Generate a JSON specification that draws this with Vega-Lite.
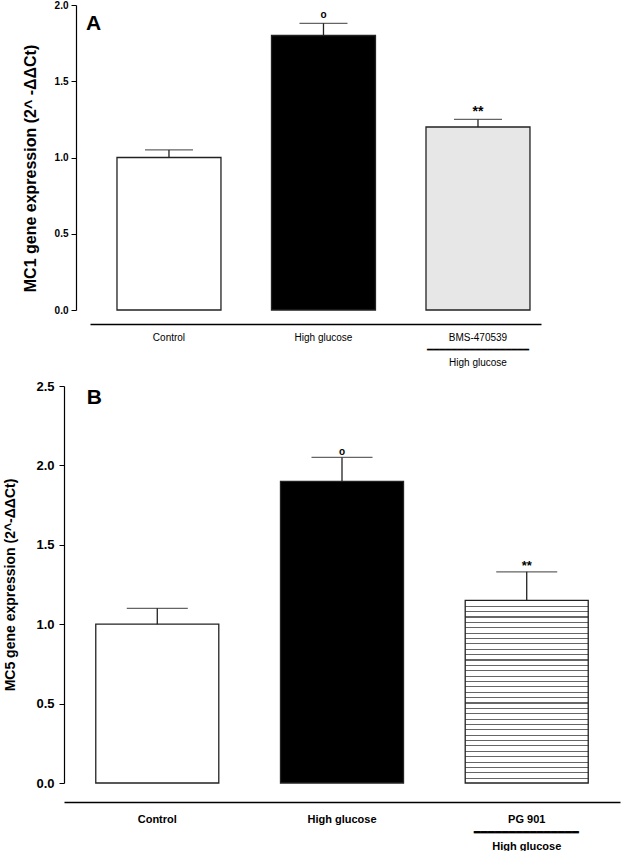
{
  "$schema": "https://vega.github.io/schema/vega-lite/v6.json",
  "padding": {"left": 3, "top": 0, "right": 0, "bottom": 0},
  "spacing": 13,
  "config": {
    "view": {"stroke": null},
    "font": "Liberation Sans",
    "axis": {"grid": false, "domainColor": "#000", "tickColor": "#000", "labelColor": "#000", "titleColor": "#000", "labelFont": "Liberation Sans", "titleFont": "Liberation Sans"}
  },
  "vconcat": [
    {
      "width": 447,
      "height": 305,
      "data": {"values": [
        {"group": "Control", "value": 1.0, "upper": 1.05, "mark": ""},
        {"group": "High glucose", "value": 1.8, "upper": 1.88, "mark": "o"},
        {"group": "BMS-470539", "value": 1.2, "upper": 1.25, "mark": "**"}
      ]},
      "encoding": {
        "x": {"field": "group", "type": "nominal", "sort": ["Control", "High glucose", "BMS-470539"],
          "scale": {"type": "band", "domain": ["Control", "High glucose", "BMS-470539"], "range": [-4, 447], "paddingInner": 0.327, "paddingOuter": 0.123, "align": 0.71},
          "axis": {"title": null, "offset": 14, "ticks": false, "domainWidth": 1.5, "labelAngle": 0, "labelFontSize": 10, "labelFontWeight": "normal", "labelPadding": 8, "labelLineHeight": 12.5,
            "labelExpr": "datum.label == 'BMS-470539' ? ['BMS-470539', '━━━━━━━━━━━━━━━━━', 'High glucose'] : datum.label"}}
      },
      "layer": [
        {
          "transform": [{"filter": "datum.group != 'BMS-470539'"}],
          "mark": {"type": "bar", "stroke": "#222", "strokeWidth": 1.3, "fill": "#000"},
          "encoding": {
            "y": {"field": "value", "type": "quantitative", "scale": {"domain": [0, 2], "nice": false},
              "axis": {"title": "MC1 gene expression (2^ -ΔΔCt)", "titleFontSize": 16, "titleFontWeight": "bold", "titlePadding": 16, "titleY": 163, "values": [0, 0.5, 1, 1.5, 2], "format": ".1f", "offset": 18, "tickSize": 5, "labelFontSize": 10, "labelFontWeight": "bold", "labelPadding": 3, "domainWidth": 1.2}},
            "fill": {"condition": {"test": "datum.group == 'Control'", "value": "#ffffff"}, "value": "#000000"}
          }
        },
        {
          "transform": [{"filter": "datum.group == 'BMS-470539'"}],
          "mark": {"type": "bar", "stroke": "#222", "strokeWidth": 1.3, "fill": "#e7e7e7"},
          "encoding": {"y": {"field": "value", "type": "quantitative"}}
        },
        {
          "mark": {"type": "rule", "color": "#222", "strokeWidth": 1.3},
          "encoding": {"y": {"field": "value", "type": "quantitative"}, "y2": {"field": "upper"}}
        },
        {
          "mark": {"type": "tick", "color": "#222", "thickness": 1.3, "size": 48},
          "encoding": {"y": {"field": "upper", "type": "quantitative"}}
        },
        {
          "transform": [{"filter": "datum.mark == 'o'"}],
          "mark": {"type": "text", "fontSize": 10, "fontWeight": "bold", "baseline": "alphabetic", "dy": -5, "color": "#000"},
          "encoding": {"y": {"field": "upper", "type": "quantitative"}, "text": {"field": "mark"}}
        },
        {
          "transform": [{"filter": "datum.mark == '**'"}],
          "mark": {"type": "text", "fontSize": 14, "fontWeight": "bold", "baseline": "alphabetic", "dy": -3, "color": "#000"},
          "encoding": {"y": {"field": "upper", "type": "quantitative"}, "text": {"field": "mark"}}
        },
        {
          "data": {"values": [{"panel": "A"}]},
          "mark": {"type": "text", "fontSize": 21, "fontWeight": "bold", "baseline": "alphabetic", "align": "left", "dx": -83, "color": "#000"},
          "encoding": {"x": {"datum": "Control"}, "y": {"datum": 1.836}, "text": {"field": "panel"}}
        }
      ]
    },
    {
      "width": 526,
      "height": 397,
      "data": {"values": [
        {"group": "Control", "value": 1.0, "upper": 1.1, "mark": ""},
        {"group": "High glucose", "value": 1.9, "upper": 2.05, "mark": "o"},
        {"group": "PG 901", "value": 1.15, "upper": 1.33, "mark": "**"}
      ]},
      "encoding": {
        "x": {"field": "group", "type": "nominal", "sort": ["Control", "High glucose", "PG 901"],
          "scale": {"type": "band", "domain": ["Control", "High glucose", "PG 901"], "range": [-30, 526], "paddingInner": 0.334, "paddingOuter": 0.172},
          "axis": {"title": null, "offset": 19, "ticks": false, "domainWidth": 1.5, "labelAngle": 0, "labelFontSize": 11, "labelFontWeight": "bold", "labelPadding": 11, "labelLineHeight": 13.5,
            "labelExpr": "datum.label == 'PG 901' ? ['PG 901', '━━━━━━━━━━━━━━━', 'High glucose'] : datum.label"}}
      },
      "layer": [
        {
          "transform": [{"filter": "datum.group != 'PG 901'"}],
          "mark": {"type": "bar", "stroke": "#222", "strokeWidth": 1.3, "fill": "#000"},
          "encoding": {
            "y": {"field": "value", "type": "quantitative", "scale": {"domain": [0, 2.5], "nice": false},
              "axis": {"title": "MC5 gene expression (2^-ΔΔCt)", "titleFontSize": 14, "titleFontWeight": "bold", "titlePadding": 18, "values": [0, 0.5, 1, 1.5, 2, 2.5], "format": ".1f", "offset": 30, "tickSize": 5, "labelFontSize": 13, "labelFontWeight": "bold", "labelPadding": 5, "domainWidth": 1.2}},
            "fill": {"condition": {"test": "datum.group == 'Control'", "value": "#ffffff"}, "value": "#000000"}
          }
        },
        {
          "transform": [{"filter": "datum.group == 'PG 901'"}],
          "mark": {"type": "bar", "stroke": "#222", "strokeWidth": 1.3,
            "fill": {"gradient": "linear", "x1": 0, "y1": 0, "x2": 0, "y2": 1, "stops": [
              {"offset": 0, "color": "#fff"},
              {"offset": 0.0294, "color": "#fff"}, {"offset": 0.0294, "color": "#666"}, {"offset": 0.0354, "color": "#666"}, {"offset": 0.0354, "color": "#fff"},
              {"offset": 0.0588, "color": "#fff"}, {"offset": 0.0588, "color": "#666"}, {"offset": 0.0648, "color": "#666"}, {"offset": 0.0648, "color": "#fff"},
              {"offset": 0.0882, "color": "#fff"}, {"offset": 0.0882, "color": "#666"}, {"offset": 0.0942, "color": "#666"}, {"offset": 0.0942, "color": "#fff"},
              {"offset": 0.1176, "color": "#fff"}, {"offset": 0.1176, "color": "#666"}, {"offset": 0.1236, "color": "#666"}, {"offset": 0.1236, "color": "#fff"},
              {"offset": 0.1471, "color": "#fff"}, {"offset": 0.1471, "color": "#666"}, {"offset": 0.1531, "color": "#666"}, {"offset": 0.1531, "color": "#fff"},
              {"offset": 0.1765, "color": "#fff"}, {"offset": 0.1765, "color": "#666"}, {"offset": 0.1825, "color": "#666"}, {"offset": 0.1825, "color": "#fff"},
              {"offset": 0.2059, "color": "#fff"}, {"offset": 0.2059, "color": "#666"}, {"offset": 0.2119, "color": "#666"}, {"offset": 0.2119, "color": "#fff"},
              {"offset": 0.2353, "color": "#fff"}, {"offset": 0.2353, "color": "#666"}, {"offset": 0.2413, "color": "#666"}, {"offset": 0.2413, "color": "#fff"},
              {"offset": 0.2647, "color": "#fff"}, {"offset": 0.2647, "color": "#666"}, {"offset": 0.2707, "color": "#666"}, {"offset": 0.2707, "color": "#fff"},
              {"offset": 0.2941, "color": "#fff"}, {"offset": 0.2941, "color": "#666"}, {"offset": 0.3001, "color": "#666"}, {"offset": 0.3001, "color": "#fff"},
              {"offset": 0.3235, "color": "#fff"}, {"offset": 0.3235, "color": "#666"}, {"offset": 0.3295, "color": "#666"}, {"offset": 0.3295, "color": "#fff"},
              {"offset": 0.3529, "color": "#fff"}, {"offset": 0.3529, "color": "#666"}, {"offset": 0.3589, "color": "#666"}, {"offset": 0.3589, "color": "#fff"},
              {"offset": 0.3824, "color": "#fff"}, {"offset": 0.3824, "color": "#666"}, {"offset": 0.3884, "color": "#666"}, {"offset": 0.3884, "color": "#fff"},
              {"offset": 0.4118, "color": "#fff"}, {"offset": 0.4118, "color": "#666"}, {"offset": 0.4178, "color": "#666"}, {"offset": 0.4178, "color": "#fff"},
              {"offset": 0.4412, "color": "#fff"}, {"offset": 0.4412, "color": "#666"}, {"offset": 0.4472, "color": "#666"}, {"offset": 0.4472, "color": "#fff"},
              {"offset": 0.4706, "color": "#fff"}, {"offset": 0.4706, "color": "#666"}, {"offset": 0.4766, "color": "#666"}, {"offset": 0.4766, "color": "#fff"},
              {"offset": 0.5, "color": "#fff"}, {"offset": 0.5, "color": "#666"}, {"offset": 0.506, "color": "#666"}, {"offset": 0.506, "color": "#fff"},
              {"offset": 0.5294, "color": "#fff"}, {"offset": 0.5294, "color": "#666"}, {"offset": 0.5354, "color": "#666"}, {"offset": 0.5354, "color": "#fff"},
              {"offset": 0.5588, "color": "#fff"}, {"offset": 0.5588, "color": "#666"}, {"offset": 0.5648, "color": "#666"}, {"offset": 0.5648, "color": "#fff"},
              {"offset": 0.5882, "color": "#fff"}, {"offset": 0.5882, "color": "#666"}, {"offset": 0.5942, "color": "#666"}, {"offset": 0.5942, "color": "#fff"},
              {"offset": 0.6176, "color": "#fff"}, {"offset": 0.6176, "color": "#666"}, {"offset": 0.6236, "color": "#666"}, {"offset": 0.6236, "color": "#fff"},
              {"offset": 0.6471, "color": "#fff"}, {"offset": 0.6471, "color": "#666"}, {"offset": 0.6531, "color": "#666"}, {"offset": 0.6531, "color": "#fff"},
              {"offset": 0.6765, "color": "#fff"}, {"offset": 0.6765, "color": "#666"}, {"offset": 0.6825, "color": "#666"}, {"offset": 0.6825, "color": "#fff"},
              {"offset": 0.7059, "color": "#fff"}, {"offset": 0.7059, "color": "#666"}, {"offset": 0.7119, "color": "#666"}, {"offset": 0.7119, "color": "#fff"},
              {"offset": 0.7353, "color": "#fff"}, {"offset": 0.7353, "color": "#666"}, {"offset": 0.7413, "color": "#666"}, {"offset": 0.7413, "color": "#fff"},
              {"offset": 0.7647, "color": "#fff"}, {"offset": 0.7647, "color": "#666"}, {"offset": 0.7707, "color": "#666"}, {"offset": 0.7707, "color": "#fff"},
              {"offset": 0.7941, "color": "#fff"}, {"offset": 0.7941, "color": "#666"}, {"offset": 0.8001, "color": "#666"}, {"offset": 0.8001, "color": "#fff"},
              {"offset": 0.8235, "color": "#fff"}, {"offset": 0.8235, "color": "#666"}, {"offset": 0.8295, "color": "#666"}, {"offset": 0.8295, "color": "#fff"},
              {"offset": 0.8529, "color": "#fff"}, {"offset": 0.8529, "color": "#666"}, {"offset": 0.8589, "color": "#666"}, {"offset": 0.8589, "color": "#fff"},
              {"offset": 0.8824, "color": "#fff"}, {"offset": 0.8824, "color": "#666"}, {"offset": 0.8884, "color": "#666"}, {"offset": 0.8884, "color": "#fff"},
              {"offset": 0.9118, "color": "#fff"}, {"offset": 0.9118, "color": "#666"}, {"offset": 0.9178, "color": "#666"}, {"offset": 0.9178, "color": "#fff"},
              {"offset": 0.9412, "color": "#fff"}, {"offset": 0.9412, "color": "#666"}, {"offset": 0.9472, "color": "#666"}, {"offset": 0.9472, "color": "#fff"},
              {"offset": 0.9706, "color": "#fff"}, {"offset": 0.9706, "color": "#666"}, {"offset": 0.9766, "color": "#666"}, {"offset": 0.9766, "color": "#fff"},
              {"offset": 1, "color": "#fff"}
            ]}},
          "encoding": {"y": {"field": "value", "type": "quantitative"}}
        },
        {
          "mark": {"type": "rule", "color": "#222", "strokeWidth": 1.3},
          "encoding": {"y": {"field": "value", "type": "quantitative"}, "y2": {"field": "upper"}}
        },
        {
          "mark": {"type": "tick", "color": "#222", "thickness": 1.3, "size": 61},
          "encoding": {"y": {"field": "upper", "type": "quantitative"}}
        },
        {
          "transform": [{"filter": "datum.mark == 'o'"}],
          "mark": {"type": "text", "fontSize": 10, "fontWeight": "bold", "baseline": "alphabetic", "dy": -2.5, "color": "#000"},
          "encoding": {"y": {"field": "upper", "type": "quantitative"}, "text": {"field": "mark"}}
        },
        {
          "transform": [{"filter": "datum.mark == '**'"}],
          "mark": {"type": "text", "fontSize": 13, "fontWeight": "bold", "baseline": "alphabetic", "dy": -1.5, "color": "#000"},
          "encoding": {"y": {"field": "upper", "type": "quantitative"}, "text": {"field": "mark"}}
        },
        {
          "data": {"values": [{"panel": "B"}]},
          "mark": {"type": "text", "fontSize": 21, "fontWeight": "bold", "baseline": "alphabetic", "align": "left", "dx": -70.5, "color": "#000"},
          "encoding": {"x": {"datum": "Control"}, "y": {"datum": 2.385}, "text": {"field": "panel"}}
        }
      ]
    }
  ]
}
